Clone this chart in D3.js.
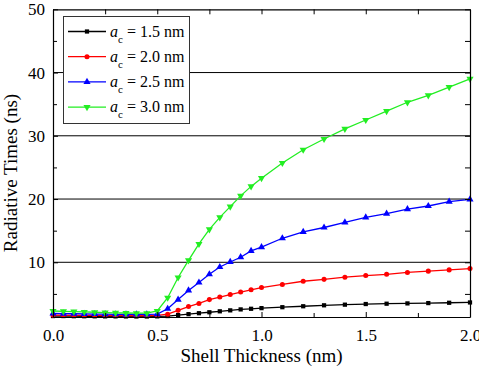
<!DOCTYPE html>
<html>
<head>
<meta charset="utf-8">
<script src="https://cdn.jsdelivr.net/npm/d3@7"></script>
</head>
<body style="margin:0; background:#fff">
<svg id="chart" width="479" height="366" font-family="Liberation Serif"></svg>
<script>
// shell thickness (nm): 0.05 steps to 1.0, then 0.1 steps
const thickness = [0, 0.05, 0.1, 0.15, 0.2, 0.25, 0.3, 0.35, 0.4, 0.45, 0.5,
    0.55, 0.6, 0.65, 0.7, 0.75, 0.8, 0.85, 0.9, 0.95, 1.0,
    1.1, 1.2, 1.3, 1.4, 1.5, 1.6, 1.7, 1.8, 1.9, 2.0];

const ac15 = [1.5, 1.5, 1.48, 1.47, 1.46, 1.45, 1.45, 1.44, 1.43, 1.43, 1.45,
    1.5, 1.65, 1.8, 1.95, 2.1, 2.25, 2.4, 2.55, 2.65, 2.75,
    2.9, 3.05, 3.2, 3.3, 3.4, 3.45, 3.5, 3.55, 3.6, 3.65];
const ac20 = [1.65, 1.63, 1.62, 1.6, 1.6, 1.58, 1.57, 1.56, 1.55, 1.55, 1.6,
    1.8, 2.4, 3.0, 3.5, 4.1, 4.5, 4.9, 5.3, 5.65, 6.0,
    6.5, 7.0, 7.3, 7.65, 7.9, 8.1, 8.4, 8.6, 8.8, 9.0];
const ac25 = [1.9, 1.88, 1.86, 1.84, 1.82, 1.8, 1.78, 1.76, 1.75, 1.75, 1.8,
    2.65, 4.1, 5.55, 6.8, 8.1, 9.25, 10.05, 10.8, 11.8, 12.4,
    13.8, 14.8, 15.5, 16.3, 17.1, 17.7, 18.4, 18.9, 19.6, 19.95];
const ac30 = [2.3, 2.25, 2.2, 2.15, 2.1, 2.05, 2.0, 1.98, 1.95, 1.95, 2.3,
    4.4, 7.6, 10.3, 12.9, 15.2, 17.1, 18.8, 20.5, 22.0, 23.3,
    25.7, 27.8, 29.5, 31.1, 32.5, 33.9, 35.3, 36.4, 37.7, 39.0];

const seriesNames = ['1.5', '2.0', '2.5', '3.0'];
const xTicks = [0, 0.5, 1.0, 1.5, 2.0];
const yTicks = [10, 20, 30, 40, 50];

const FONT = 'Liberation Serif';

const series = [
    { name: seriesNames[0], values: ac15, color: '#000000', symbol: d3.symbolSquare, size: 18, rot: 0 },
    { name: seriesNames[1], values: ac20, color: '#ff0000', symbol: d3.symbolCircle, size: 20, rot: 0 },
    { name: seriesNames[2], values: ac25, color: '#0000ff', symbol: d3.symbolTriangle, size: 22, rot: 0 },
    { name: seriesNames[3], values: ac30, color: '#22ee22', symbol: d3.symbolTriangle, size: 22, rot: 180 },
];

const svg = d3.select('#chart');
const margin = { top: 9.3, right: 9, bottom: 49, left: 53 };
const width = 479, height = 366;

const x = d3.scaleLinear().domain([0, 2]).range([margin.left, width - margin.right]);
const y = d3.scaleLinear().domain([1.35, 50]).range([height - margin.bottom, margin.top]);

// grid lines
svg.append('g')
    .selectAll('line')
    .data(yTicks.slice(0, -1))
    .join('line')
    .attr('x1', x(0)).attr('x2', x(2))
    .attr('y1', d => y(d)).attr('y2', d => y(d))
    .attr('stroke', '#000').attr('stroke-width', 1);

// series
const line = d3.line().x((d, i) => x(thickness[i])).y(d => y(d));
series.forEach(s => {
    svg.append('path')
        .datum(s.values)
        .attr('fill', 'none')
        .attr('stroke', s.color)
        .attr('stroke-width', 1.3)
        .attr('d', line);
    svg.append('g')
        .selectAll('path')
        .data(s.values)
        .join('path')
        .attr('d', d3.symbol().type(s.symbol).size(s.size))
        .attr('transform', (d, i) => `translate(${x(thickness[i])},${y(d)}) rotate(${s.rot})`)
        .attr('fill', s.color);
});

// axes, ticks inside on all four sides
const minorX = d3.range(0.25, 2, 0.5);
const minorY = d3.range(5, 50, 10);

const styleLabels = g => g.attr('font-family', FONT)
    .selectAll('text').attr('font-size', '17px').attr('fill', '#000').attr('font-family', FONT);

svg.append('g')
    .attr('transform', `translate(0,${y(1.35)})`)
    .call(d3.axisBottom(x).tickValues(xTicks).tickFormat(d3.format('.1f')).tickSizeInner(-5).tickSizeOuter(0).tickPadding(12))
    .call(styleLabels);
svg.append('g')
    .attr('transform', `translate(0,${y(1.35)})`)
    .call(d3.axisBottom(x).tickValues(minorX).tickFormat('').tickSizeInner(-4).tickSizeOuter(0))
    .call(g => g.select('.domain').remove());

svg.append('g')
    .attr('transform', `translate(0,${y(50)})`)
    .call(d3.axisTop(x).tickValues(xTicks.concat(minorX)).tickFormat('').tickSizeInner(-5).tickSizeOuter(0));

svg.append('g')
    .attr('transform', `translate(${x(0)},0)`)
    .call(d3.axisLeft(y).tickValues(yTicks).tickSizeInner(-5).tickSizeOuter(0).tickPadding(8))
    .call(styleLabels);
svg.append('g')
    .attr('transform', `translate(${x(0)},0)`)
    .call(d3.axisLeft(y).tickValues(minorY).tickFormat('').tickSizeInner(-4).tickSizeOuter(0))
    .call(g => g.select('.domain').remove());

svg.append('g')
    .attr('transform', `translate(${x(2)},0)`)
    .call(d3.axisRight(y).tickValues(yTicks.concat(minorY)).tickFormat('').tickSizeInner(-5).tickSizeOuter(0));

svg.selectAll('.domain').attr('stroke', '#000').attr('stroke-width', 1.2);

// axis titles
svg.append('text')
    .attr('x', (x(0) + x(2)) / 2)
    .attr('y', 361.5)
    .attr('text-anchor', 'middle')
    .attr('font-family', FONT)
    .attr('font-size', '19px')
    .text('Shell Thickness (nm)');

svg.append('text')
    .attr('transform', 'translate(16.5,173) rotate(-90)')
    .attr('text-anchor', 'middle')
    .attr('font-family', FONT)
    .attr('font-size', '19px')
    .text('Radiative Times (ns)');

// legend
const legend = svg.append('g');
legend.append('rect')
    .attr('x', 63.5).attr('y', 16.5)
    .attr('width', 126).attr('height', 107)
    .attr('fill', '#fff').attr('stroke', '#333').attr('stroke-width', 1);

series.forEach((s, i) => {
    const ly = 31.5 + i * 25.2;
    legend.append('line')
        .attr('x1', 68).attr('x2', 106)
        .attr('y1', ly).attr('y2', ly)
        .attr('stroke', s.color).attr('stroke-width', 1.3);
    legend.append('path')
        .attr('d', d3.symbol().type(s.symbol).size(s.size))
        .attr('transform', `translate(87,${ly}) rotate(${s.rot})`)
        .attr('fill', s.color);
    const t = legend.append('text')
        .attr('x', 110).attr('y', ly + 5)
        .attr('font-family', FONT)
        .attr('font-size', '16px');
    t.append('tspan').attr('font-style', 'italic').text('a');
    t.append('tspan').attr('font-size', '11px').attr('dy', 6).text('c');
    t.append('tspan').attr('dy', -6).text(` = ${s.name} nm`);
});
</script>
</body>
</html>
